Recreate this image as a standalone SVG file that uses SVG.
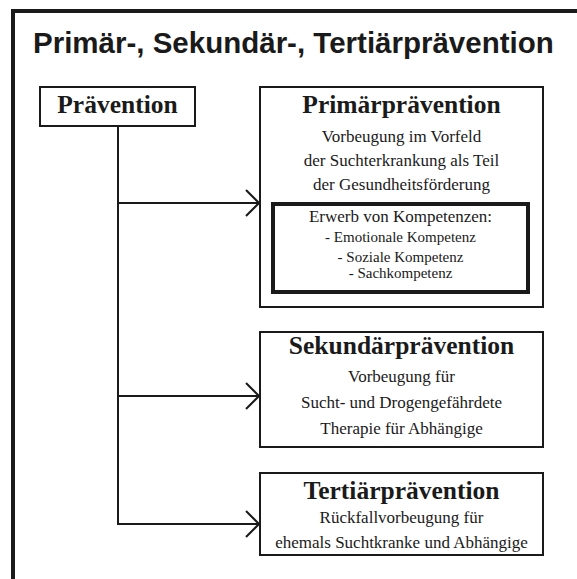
<svg xmlns="http://www.w3.org/2000/svg" width="577" height="579" viewBox="0 0 577 579">
<defs>
<style>
.frame{fill:none;stroke:#1a1a1a;stroke-width:4}
.box{fill:#fff;stroke:#1a1a1a;stroke-width:2}
.thick{fill:#fff;stroke:#1a1a1a;stroke-width:4}
.conn{fill:none;stroke:#1a1a1a;stroke-width:2}
.title{font-family:"Liberation Sans",Arial,sans-serif;font-weight:bold;font-size:29.5px;fill:#1a1a1a}
.h{font-family:"Liberation Serif","Times New Roman",serif;font-weight:bold;font-size:25.5px;fill:#1a1a1a;text-anchor:middle}
.t{font-family:"Liberation Serif","Times New Roman",serif;font-size:17px;fill:#1a1a1a;text-anchor:middle}
.s{font-family:"Liberation Serif","Times New Roman",serif;font-size:15px;fill:#1a1a1a;text-anchor:middle}
</style>
<marker id="arr" viewBox="0 0 16 30" refX="15" refY="15" markerWidth="16" markerHeight="30" markerUnits="userSpaceOnUse" orient="auto">
<path d="M2,2 L15,15 L2,28" fill="none" stroke="#1a1a1a" stroke-width="2"/>
</marker>
</defs>
<rect width="577" height="579" fill="#fff"/>
<path class="frame" d="M13,579 V11 H577"/>
<text class="title" x="33" y="53">Primär-, Sekundär-, Tertiärprävention</text>
<g id="connectors">
<path class="conn" d="M118,126 V524 H259"/>
<path class="conn" d="M118,203 H259" marker-end="url(#arr)"/>
<path class="conn" d="M118,396 H259" marker-end="url(#arr)"/>
<path class="conn" d="M240,524 H259" marker-end="url(#arr)"/>
</g>
<g id="praevention">
<rect class="box" x="40" y="87" width="155" height="39"/>
<text class="h" x="117.5" y="113">Prävention</text>
</g>
<g id="primaer">
<rect class="box" x="260" y="87" width="283" height="220"/>
<text class="h" x="401.5" y="113">Primärprävention</text>
<text class="t" x="401.5" y="142">Vorbeugung im Vorfeld</text>
<text class="t" x="401.5" y="166">der Suchterkrankung als Teil</text>
<text class="t" x="401.5" y="190">der Gesundheitsförderung</text>
</g>
<g id="kompetenzen">
<rect class="thick" x="273" y="204" width="255" height="88"/>
<text class="t" x="400.5" y="222">Erwerb von Kompetenzen:</text>
<text class="s" x="400.5" y="242">- Emotionale Kompetenz</text>
<text class="s" x="400.5" y="262">- Soziale Kompetenz</text>
<text class="s" x="400.5" y="278">- Sachkompetenz</text>
</g>
<g id="sekundaer">
<rect class="box" x="260" y="332" width="283" height="115"/>
<text class="h" x="401.5" y="354">Sekundärprävention</text>
<text class="t" x="401.5" y="382">Vorbeugung für</text>
<text class="t" x="401.5" y="408">Sucht- und Drogengefährdete</text>
<text class="t" x="401.5" y="434">Therapie für Abhängige</text>
</g>
<g id="tertiaer">
<rect class="box" x="260" y="473" width="283" height="82"/>
<text class="h" x="401.5" y="499">Tertiärprävention</text>
<text class="t" x="401.5" y="523">Rückfallvorbeugung für</text>
<text class="t" x="401.5" y="548">ehemals Suchtkranke und Abhängige</text>
</g>
</svg>
